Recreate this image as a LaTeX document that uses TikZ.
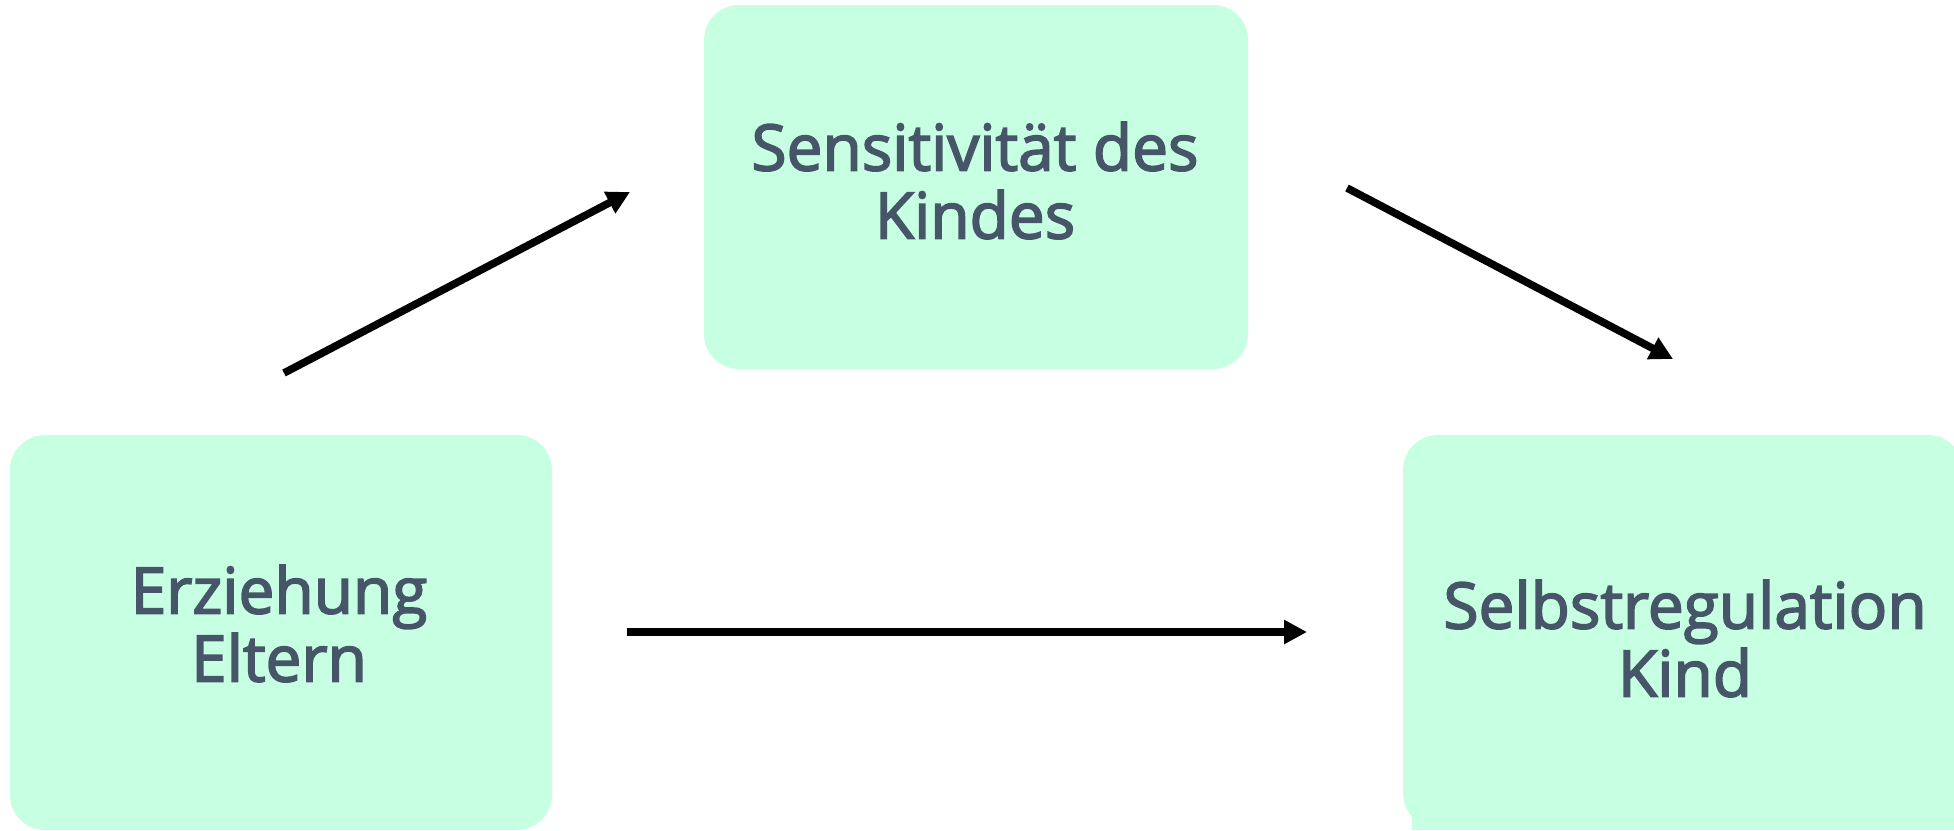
\documentclass[tikz,border=0pt]{standalone}
\usepackage{fontspec}
\setmainfont{Open Sans}
\newfontfamily\captionface{Open Sans}[FakeBold=2.6]
\usetikzlibrary{arrows.meta}

\definecolor{boxfill}{RGB}{199,255,227}
\definecolor{labelink}{RGB}{71,85,105}

\tikzset{
  factor/.style={rectangle, rounded corners=17.5pt, fill=boxfill, draw=none,
                 inner sep=0pt},
  caption/.style={align=center, text=labelink, inner sep=0pt,
                  font=\captionface\fontsize{32}{34}\selectfont},
  effect/.style={line width=3.8pt, draw=black,
                 -{Triangle[length=11.5pt,width=11.5pt]}}
}

\begin{document}
\begin{tikzpicture}[x=0.5pt, y=-0.5pt]
  \useasboundingbox (0,0) rectangle (1954,830);

  % the three factors
  \node[factor, minimum width=271pt, minimum height=197.5pt] (eltern) at (281,632.5) {};
  \node[factor, minimum width=272pt, minimum height=182pt] (sens) at (976,187) {};
  \node[factor, minimum width=280pt, minimum height=196.5pt] (kind) at (1683,631.5) {};
  \fill[boxfill] (1412,816) rectangle (1954,830);

  % their captions
  \node[caption] (elternText) at (279,623.5) {Erziehung\\Eltern};
  \node[caption] (sensText) at (975,180.5) {Sensitivität des\\Kindes};
  \node[caption] (kindText) at (1685,638.5) {Selbstregulation\\Kind};

  % ends of the arrows
  \coordinate (a1s) at (284,373);
  \coordinate (a1e) at (630,192);
  \coordinate (a2s) at (1347,188);
  \coordinate (a2e) at (1673,359);
  \coordinate (a3s) at (627,632);
  \coordinate (a3e) at (1307,632);

  \draw[effect] (a1s) -- (a1e);
  \draw[effect] (a2s) -- (a2e);
  \draw[effect] (a3s) -- (a3e);
\end{tikzpicture}
\end{document}
